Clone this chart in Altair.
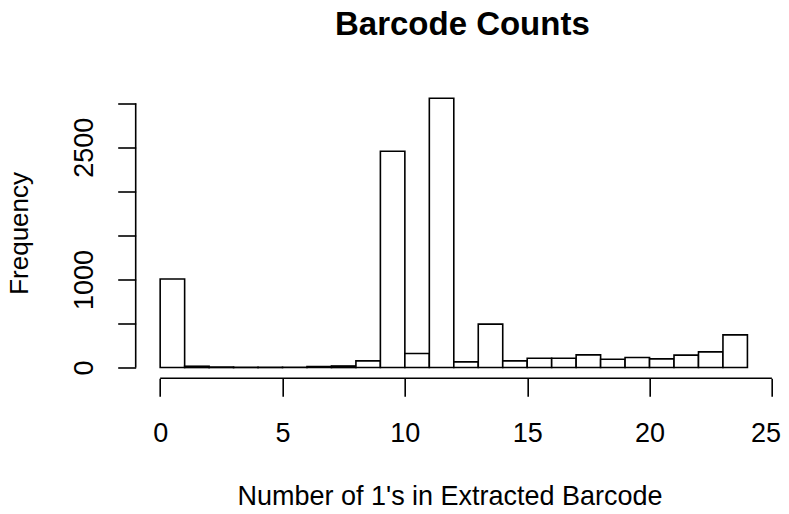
import altair as alt
import pandas as pd

# ---- data ----
bin_starts = list(range(24))
bin_ends = [s + 1 for s in bin_starts]
counts = [1005, 15, 6, 3, 3, 4, 12, 18, 76, 2455, 159, 3057, 65, 493, 76,
          106, 106, 144, 95, 114, 99, 141, 178, 371]
x_ticks = [0, 5, 10, 15, 20, 25]
y_ticks = [0, 500, 1000, 1500, 2000, 2500, 3000]
y_labels_shown = [0, 1000, 2500]
chart_title = "Barcode Counts"
x_title = "Number of 1's in Extracted Barcode"
y_title = "Frequency"

x_dom = [-1, 25.0]
y_dom = [-122, 3179]

df = pd.DataFrame({"start": bin_starts, "end": bin_ends, "count": counts})

FONT = "Liberation Sans"
LW = 1.6

xscale = alt.Scale(domain=x_dom, nice=False, zero=False)
yscale = alt.Scale(domain=y_dom, nice=False, zero=False)

shown = "[" + ",".join(str(v) for v in y_labels_shown) + "]"

x_axis = alt.Axis(
    values=x_ticks, domain=False, grid=False, ticks=True, tickSize=18,
    tickColor="black", tickWidth=LW, labelFont=FONT, labelFontSize=27,
    labelColor="black", labelPadding=45.4, labelBaseline="alphabetic",
    labelAngle=0, labelFlush=False, labelOverlap=False, format="d",
    labelOffset={"condition": {"test": f"datum.value == {x_ticks[-1]}", "value": -6.5}, "value": 0},
    title=x_title, titleFont=FONT, titleFontSize=27, titleFontWeight="normal",
    titleColor="black", titleX=101.3, titleY=126.5, titleAlign="left",
    titleBaseline="alphabetic",
)
y_axis = alt.Axis(
    values=y_ticks, domain=False, grid=False, ticks=True, tickSize=18,
    tickColor="black", tickWidth=LW, labelFont=FONT, labelFontSize=27,
    labelColor="black", labelPadding=25.5, labelBaseline="alphabetic",
    labelAlign="center", labelAngle=270, labelFlush=False, labelOverlap=False,
    format="d",
    labelExpr=f"indexof({shown}, datum.value) >= 0 ? datum.label : ''",
    title=y_title, titleFont=FONT, titleFontSize=26, titleFontWeight="normal",
    titleColor="black", titleAngle=270, titleX=-108, titleY=145.4,
    titleAlign="center", titleBaseline="alphabetic",
)

bars = alt.Chart(df).mark_rect(fill="white", stroke="black", strokeWidth=LW).encode(
    x=alt.X("start:Q", scale=xscale, axis=x_axis),
    x2="end:Q",
    y=alt.Y("count:Q", scale=yscale, axis=y_axis),
    y2=alt.datum(0),
)

xline_df = pd.DataFrame({"start": [x_ticks[0]], "end": [x_ticks[-1]], "count": [y_dom[0]]})
yline_df = pd.DataFrame({"count": [y_ticks[0]], "count2": [y_ticks[-1]], "start": [x_dom[0]]})

xline = alt.Chart(xline_df).mark_rule(color="black", strokeWidth=LW).encode(
    x=alt.X("start:Q", scale=xscale, axis=x_axis),
    x2="end:Q",
    y=alt.Y("count:Q", scale=yscale, axis=y_axis),
)
yline = alt.Chart(yline_df).mark_rule(color="black", strokeWidth=LW).encode(
    y=alt.Y("count:Q", scale=yscale, axis=y_axis),
    y2="count2:Q",
    x=alt.X("start:Q", scale=xscale, axis=x_axis),
)

chart = alt.layer(bars, xline, yline).properties(
    width=636.2,
    height=290.8,
    autosize=alt.AutoSizeParams(type="none"),
    padding={"left": 127.7, "top": 79.5, "right": 9, "bottom": 127.7},
    title=alt.TitleParams(
        text=chart_title, font=FONT, fontSize=33, fontWeight="bold",
        color="black", anchor="start", frame="group", baseline="alphabetic",
        offset=20, dx=199.3,
    ),
).configure(background="white").configure_view(stroke=None)

chart.save("out.html", embed_options={"renderer": "svg", "actions": False})
